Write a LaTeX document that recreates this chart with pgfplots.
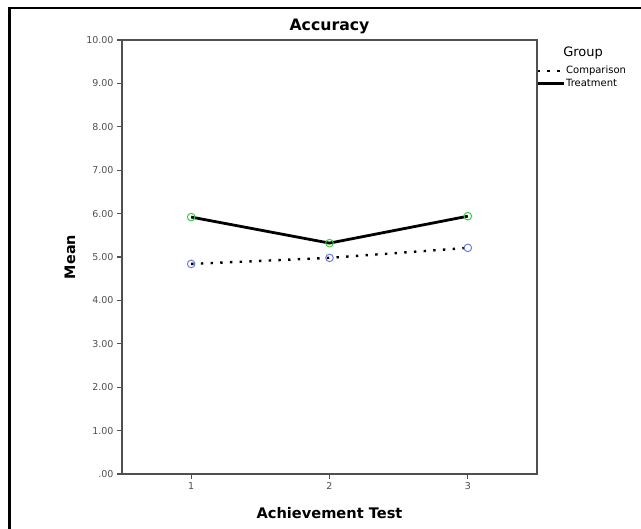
\documentclass[border=0pt]{standalone}
\usepackage{fontspec}
\setmainfont{DejaVu Sans}
\usepackage{pgfplots}
\pgfplotsset{compat=1.18}
\definecolor{axgray}{HTML}{505050}
\definecolor{tickgray}{HTML}{505050}
\definecolor{trtgreen}{HTML}{3CC84A}
\definecolor{cmpblue}{HTML}{6F7FD0}
\begin{document}
\begin{tikzpicture}
\useasboundingbox (0,0) rectangle (641pt,-529pt);
\draw[line width=2.4pt] (9.5pt,-540pt) -- (9.5pt,-8pt) -- (650pt,-8pt);
\begin{axis}[
    at={(122pt,-474pt)}, anchor=south west,
    scale only axis, width=415pt, height=434pt,
    clip=false,
    xmin=0.5, xmax=3.5, ymin=0, ymax=10,
    xtick={1,2,3}, ytick={0,1,...,10},
    yticklabels={.00,1.00,2.00,3.00,4.00,5.00,6.00,7.00,8.00,9.00,10.00},
    xtick pos=bottom, ytick pos=left, tick align=outside,
    major tick length=5pt,
    tick style={axgray, line width=1.2pt},
    axis line style={axgray, line width=1.2pt},
    ticklabel style={font=\fontsize{9.5}{11}\selectfont, text=tickgray},
    /pgf/number format/assume math mode=true,
    every axis title shift=0pt,
    title={Accuracy},
    title style={font=\fontsize{15.7}{18}\selectfont\bfseries, at={(axis description cs:0.5,1.032)}, anchor=center, yshift=0pt},
    xlabel={Achievement Test},
    xlabel style={font=\fontsize{14.6}{17}\selectfont\bfseries, at={(axis description cs:0.5,-0.0898)}, anchor=center},
    ylabel={Mean},
    ylabel style={font=\fontsize{14.4}{17}\selectfont\bfseries, at={(axis description cs:-0.1253,0.5)}, anchor=center},
    legend style={at={(axis description cs:0.998,0.942)}, anchor=north west,
        draw=none, fill=none, inner sep=0pt, row sep=1.5pt,
        font=\fontsize{10}{11}\selectfont,
        nodes={inner sep=1pt, anchor=west}},
    legend cell align=left,
    legend image code/.code={\draw[#1] (0pt,0pt) -- (26pt,0pt);},
]
% Comparison
\addplot[black, line width=2.4pt, dash pattern=on 2.4pt off 7.3pt] coordinates {
    (1,4.84) (2,4.98) (3,5.21)
};
\addlegendentry{Comparison}
% Treatment
\addplot[black, line width=2.8pt] coordinates {
    (1,5.92) (2,5.32) (3,5.94)
};
\addlegendentry{Treatment}
% markers
\addplot[only marks, mark=o, mark size=3.8pt, mark options={cmpblue, line width=1pt}, forget plot] coordinates {
    (1,4.84) (2,4.98) (3,5.21)
};
\addplot[only marks, mark=o, mark size=3.8pt, mark options={trtgreen, line width=1pt}, forget plot] coordinates {
    (1,5.92) (2,5.32) (3,5.94)
};
\node[font=\fontsize{13}{15}\selectfont, anchor=center] at (axis description cs:1.111,0.970) {Group};
\end{axis}
\end{tikzpicture}
\end{document}
